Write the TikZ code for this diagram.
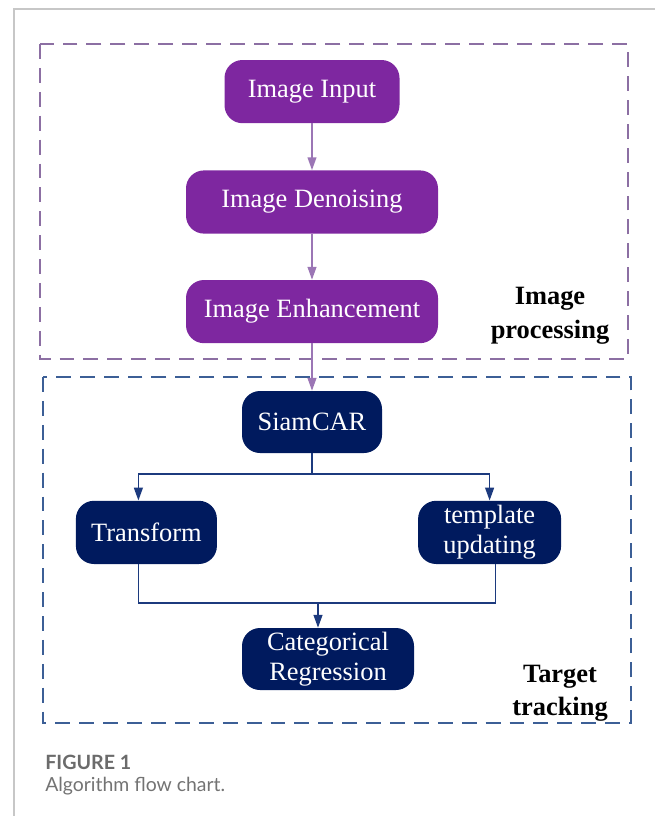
\documentclass[tikz,border=0pt]{standalone}
\usepackage{fontspec}
\setmainfont{Liberation Serif}
\newfontfamily\capfont{Lato}
\usetikzlibrary{arrows.meta,positioning,calc}
\definecolor{imgpurple}{HTML}{7E27A0}
\definecolor{trknavy}{HTML}{001A5E}
\definecolor{purpledash}{HTML}{8C6FA3}
\definecolor{bluedash}{HTML}{3C5F96}
\definecolor{purpleline}{HTML}{9B76B5}
\definecolor{navyline}{HTML}{1C3A7E}
\tikzset{
  stage/.style={rectangle, rounded corners=0.45cm, text=white, align=center, inner sep=2pt,
    minimum height=1.58cm, font=\fontsize{18.8}{21.5}\selectfont},
  group/.style={dashed, dash pattern=on 10.6pt off 6.4pt, line width=1.4pt},
  grouplabel/.style={font=\fontsize{18.8}{24}\selectfont\bfseries, align=center},
  flowp/.style={-{Triangle[length=0.32cm, width=0.22cm]}, line width=1.1pt, draw=purpleline},
  flown/.style={-{Triangle[length=0.32cm, width=0.22cm]}, line width=1.1pt, draw=navyline},
}
\begin{document}
\begin{tikzpicture}[
  proc/.style={stage, fill=imgpurple},
  track/.style={stage, fill=trknavy}]
  \useasboundingbox (0,0) rectangle (16.375,-20.4);
  % page frame
  \draw[black!22, line width=0.8pt] (0.35,-20.4) -- (0.35,-0.225) -- (16.375,-0.225);
  % image processing
  \draw[group, draw=purpledash] (1.0,-1.1) rectangle (15.7,-8.975);
  \node[proc, minimum width=4.375cm] (input) at (7.8,-2.29) {Image Input};
  \node[proc, minimum width=6.3cm] (denoise) at (7.8,-5.05) {Image Denoising};
  \node[proc, minimum width=6.3cm] (enhance) at (7.8,-7.79) {Image Enhancement};
  \node[grouplabel] (imglbl) at (13.75,-7.9) {Image\\processing};
  \draw[flowp] (input) -- (denoise);
  \draw[flowp] (denoise) -- (enhance);
  % target tracking
  \draw[group, draw=bluedash] (1.075,-9.425) rectangle (15.775,-18.075);
  \node[track, minimum width=3.5cm, minimum height=1.55cm] (siam) at (7.8,-10.55) {SiamCAR};
  \node[track, minimum width=3.525cm] (trans) at (3.66,-13.31) {Transform};
  \node[track, minimum width=3.575cm] (tmpl) at (12.24,-13.31) {template\\updating};
  \node[track, minimum width=4.3cm, minimum height=1.55cm] (cat) at (8.2,-16.475)
    {Categorical\\Regression};
  \node[grouplabel] (trklbl) at (14.0,-17.33) {Target\\tracking};
  \draw[flowp] (enhance) -- (siam);
  % split and join
  \coordinate (split) at (7.8,-11.85);
  \coordinate (join) at (7.95,-15.075);
  \draw[navyline, line width=1.1pt] (siam) -- (split);
  \draw[flown] (split) -| ($(trans.north)+(-0.2,0)$);
  \draw[flown] (split) -| (tmpl);
  \draw[navyline, line width=1.1pt] ($(trans.south)+(-0.2,0)$) |- (join) -| ($(tmpl.south)+(0.15,0)$);
  \draw[flown] (join) -- (join |- cat.north);
  % caption
  \node[anchor=west, inner sep=0pt, font=\capfont\fontsize{14}{17}\selectfont\bfseries,
    text=black!58] (fig) at (1.125,-19.05) {FIGURE 1};
  \node[anchor=west, inner sep=0pt, font=\capfont\fontsize{13.8}{17}\selectfont, text=black!55]
    (cap) at (1.125,-19.66) {Algorithm flow chart.};
\end{tikzpicture}
\end{document}
